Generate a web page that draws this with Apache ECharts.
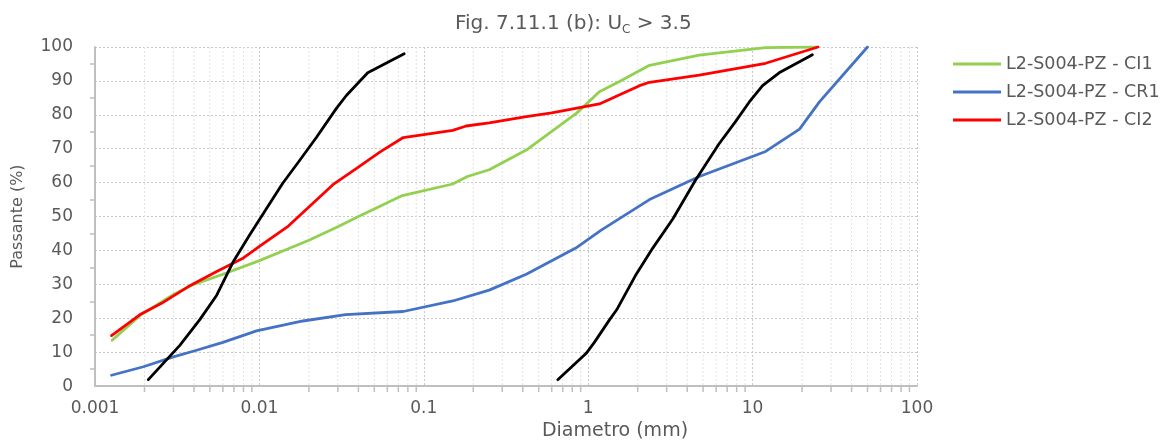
<!DOCTYPE html>
<html>
<head>
<meta charset="utf-8">
<script src="https://cdn.jsdelivr.net/npm/echarts@6/dist/echarts.min.js"></script>
<style>html,body{margin:0;padding:0;background:#fff}#c{width:1160px;height:446px}</style>
</head>
<body>
<div id="c"></div>
<script>
// ---- data ----
const xTickLabels = ['0.001', '0.01', '0.1', '1', '10', '100'];
const legendNames = ['L2-S004-PZ - CI1', 'L2-S004-PZ - CR1', 'L2-S004-PZ - CI2'];

const ci1 = [[0.00127,13.5],[0.0019,21],[0.003,27],[0.004,30],[0.006,33],[0.01,37],[0.015,40.5],[0.02,43],[0.03,47],[0.04,50],[0.05,52.2],[0.074,56.2],[0.15,59.6],[0.184,61.8],[0.25,63.8],[0.42,69.6],[0.85,80.5],[1.17,86.8],[1.55,89.8],[2.36,94.6],[4.74,97.6],[12,99.8],[24.5,100]];
const cr1 = [[0.00126,3.2],[0.00197,5.7],[0.003,8.6],[0.0041,10.5],[0.006,12.9],[0.0096,16.3],[0.0184,19.2],[0.0335,21.1],[0.075,22],[0.15,25.1],[0.25,28.3],[0.42,33],[0.84,40.7],[1.2,46],[2.36,55],[4.74,61.8],[12,69.2],[19.3,75.8],[25.5,83.8],[50,100]];
const ci2 = [[0.00126,14.9],[0.00188,21.1],[0.00254,24.4],[0.0038,29.7],[0.0055,33.8],[0.008,37.8],[0.01,41.2],[0.015,47.2],[0.02,52.8],[0.028,59.4],[0.039,64.2],[0.054,69],[0.075,73.3],[0.15,75.4],[0.181,76.7],[0.25,77.6],[0.42,79.5],[0.6,80.6],[1.17,83.2],[2.05,88.6],[2.36,89.6],[4.74,91.7],[12,95.2],[25,100]];
const blackFine = [[0.00211,1.9],[0.00328,12],[0.00434,19.6],[0.0055,26.8],[0.0069,36.5],[0.0087,44.5],[0.011,52.2],[0.0139,59.9],[0.0176,66.6],[0.0222,73.3],[0.0294,81.9],[0.0338,85.7],[0.0456,92.4],[0.076,98]];
const blackCoarse = [[0.653,1.9],[0.97,9.6],[1.09,12.9],[1.35,19.6],[1.49,22.5],[1.96,33],[2.47,40.7],[3.27,49.3],[4.5,60.8],[6.24,71.4],[7.87,78],[9.55,83.8],[11.5,88.6],[14.5,92.4],[23.1,97.7]];

// log-axis minor gridline positions (2..9 in each decade)
const decades = [0.001, 0.01, 0.1, 1, 10];
const minorMult = [2, 3, 4, 5, 6, 7, 8, 9];
const minorVals = [];
decades.forEach(d => minorMult.forEach(m => minorVals.push([+(d * m).toPrecision(3)])));

const TXT = '#595959';
const FONT = 'DejaVu Sans';

const chart = echarts.init(document.getElementById('c'), null, {renderer: 'canvas'});

function lineSeries(name, data, color) {
  return {
    name: name, type: 'line', data: data, showSymbol: false, symbol: 'none',
    smooth: false, z: 5,
    lineStyle: {color: color, width: 2.8, cap: 'round', join: 'round'},
    itemStyle: {color: color},
    emphasis: {disabled: true}
  };
}

chart.setOption({
  animation: false,
  backgroundColor: '#ffffff',
  textStyle: {fontFamily: FONT, color: TXT},
  title: {
    text: 'Fig. 7.11.1 (b): U{sub|C} > 3.5',
    left: 450, top: 6,
    textStyle: {
      fontSize: 20, fontWeight: 'normal', color: TXT, fontFamily: FONT,
      rich: {sub: {fontSize: 12, color: TXT, fontFamily: FONT, verticalAlign: 'bottom', padding: [13, 0, 0, 0]}}
    }
  },
  legend: {
    data: legendNames,
    orient: 'vertical',
    left: 948, top: 49,
    itemWidth: 48, itemHeight: 3,
    itemGap: 8,
    icon: 'rect',
    textStyle: {fontSize: 17.5, lineHeight: 20, color: TXT, fontFamily: FONT},
    selectedMode: false
  },
  grid: {left: 95, right: 243, top: 47, bottom: 51, containLabel: false},
  xAxis: {
    type: 'log', logBase: 10, min: 0.001, max: 100,
    name: 'Diametro (mm)', nameLocation: 'middle', nameGap: 35,
    nameTextStyle: {fontSize: 19, color: TXT, fontFamily: FONT, padding: [0, 0, 0, 218]},
    axisLine: {show: true, lineStyle: {color: '#BFBFBF', width: 2}},
    axisTick: {show: false},
    axisLabel: {fontSize: 17, color: TXT, fontFamily: FONT, margin: 14,
      formatter: function (v) { const i = Math.round(Math.log10(v)) + 3; return xTickLabels[i] !== undefined ? xTickLabels[i] : ''; }},
    splitLine: {show: true, lineStyle: {color: '#C8C8C8', type: [2, 2], width: 1}}
  },
  yAxis: {
    type: 'value', min: 0, max: 100, interval: 10,
    name: 'Passante (%)', nameLocation: 'middle', nameGap: 69,
    nameTextStyle: {fontSize: 16, color: TXT, fontFamily: FONT},
    axisLine: {show: true, lineStyle: {color: '#BFBFBF', width: 2}},
    axisTick: {show: false},
    minorTick: {show: true, splitNumber: 2, length: 5, lineStyle: {color: '#BFBFBF', width: 1.5}},
    axisLabel: {fontSize: 17, color: TXT, fontFamily: FONT, margin: 22},
    splitLine: {show: true, lineStyle: {color: '#C8C8C8', type: [2, 2], width: 1}}
  },
  series: [
    {
      name: 'minorGrid', type: 'custom', data: minorVals, z: 1, silent: true, clip: false,
      encode: {x: 0},
      renderItem: function (params, api) {
        const v = api.value(0);
        const top = api.coord([v, 100]);
        const bot = api.coord([v, 0]);
        return {type: 'group', children: [
          {type: 'line', shape: {x1: top[0], y1: top[1], x2: bot[0], y2: bot[1]},
           style: {stroke: '#E3E3E3', lineWidth: 1, lineDash: [2, 2]}},
          {type: 'line', shape: {x1: bot[0], y1: bot[1] + 1, x2: bot[0], y2: bot[1] + 6},
           style: {stroke: '#BFBFBF', lineWidth: 1.5}}
        ]};
      }
    },
    lineSeries(legendNames[0], ci1, '#92D050'),
    lineSeries(legendNames[1], cr1, '#4472C4'),
    lineSeries(legendNames[2], ci2, '#FF0000'),
    lineSeries('Limite fine', blackFine, '#000000'),
    lineSeries('Limite grossolano', blackCoarse, '#000000')
  ]
});
</script>
</body>
</html>
